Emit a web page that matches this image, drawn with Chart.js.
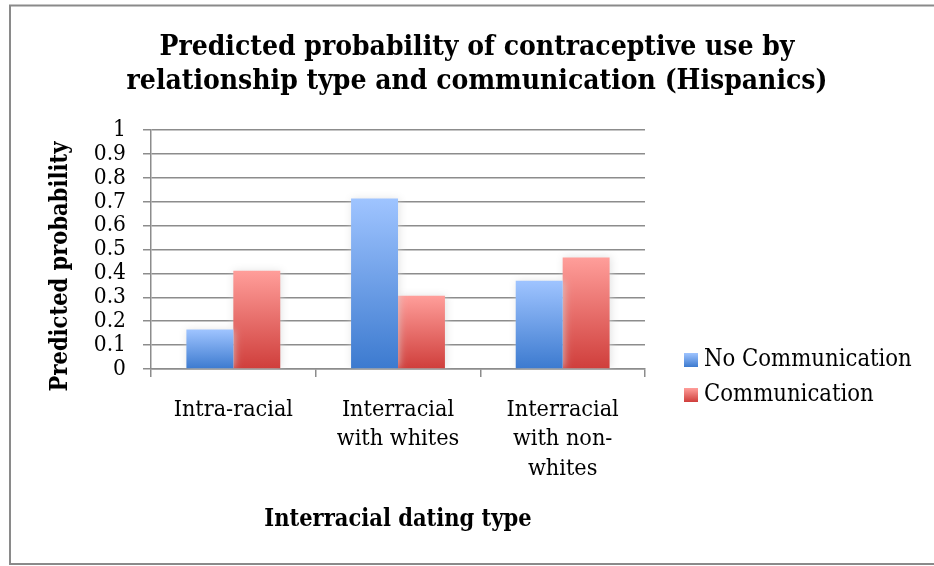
<!DOCTYPE html>
<html>
<head>
<meta charset="utf-8">
<script src="https://cdn.jsdelivr.net/npm/chart.js@4.4.1/dist/chart.umd.min.js"></script>
<style>
  html, body { margin: 0; padding: 0; background: #ffffff; }
  #wrap { width: 934px; height: 566px; }
</style>
</head>
<body>
<div id="wrap"><canvas id="chart" width="934" height="566"></canvas></div>
<script>
// Categories (multi-line tick labels) and series values
const categories = [
  ['Intra-racial'],
  ['Interracial', 'with whites'],
  ['Interracial', 'with non-', 'whites']
];
const seriesNames = ['No Communication', 'Communication'];
const noCommunication = [0.165, 0.713, 0.369];
const communication = [0.411, 0.306, 0.467];
const yTickLabels = ['0', '0.1', '0.2', '0.3', '0.4', '0.5', '0.6', '0.7', '0.8', '0.9', '1'];
const titleLines = [
  'Predicted probability of contraceptive use by',
  'relationship type and communication (Hispanics)'
];
const yAxisTitle = 'Predicted probability';
const xAxisTitle = 'Interracial dating type';

const FAMILY = "'DejaVu Serif Condensed', 'DejaVu Serif', serif";
const GRID = '#8c8c8c';
const blueStops = ['#9fc4ff', '#3c7acf'];
const redStops = ['#ff9e9a', '#cf3e3b'];

// vertical gradient spanning each bar from its top down to zero
function barFill(stops) {
  return (c) => {
    const chart = c.chart;
    if (!chart.chartArea || c.type !== 'data' || !chart.scales.y) return stops[1];
    const y = chart.scales.y;
    const top = y.getPixelForValue(c.raw);
    const base = y.getPixelForValue(0);
    const g = chart.ctx.createLinearGradient(0, top, 0, base);
    g.addColorStop(0, stops[0]);
    g.addColorStop(1, stops[1]);
    return g;
  };
}

// soft halo around the bars
const barHalo = {
  id: 'barHalo',
  beforeDatasetsDraw(chart) {
    const ctx = chart.ctx;
    ctx.save();
    ctx.shadowColor = 'rgba(215,215,215,0.75)';
    ctx.shadowBlur = 8;
    ctx.shadowOffsetX = 1;
    ctx.shadowOffsetY = 0;
  },
  afterDatasetsDraw(chart) {
    chart.ctx.restore();
  }
};

// frame, title, rotated y title and legend
const decorations = {
  id: 'decorations',
  beforeDraw(chart) {
    const ctx = chart.ctx;
    ctx.save();
    ctx.fillStyle = '#ffffff';
    ctx.fillRect(0, 0, chart.width, chart.height);
    ctx.strokeStyle = '#8a8a8a';
    ctx.lineWidth = 2;
    ctx.beginPath();
    ctx.moveTo(chart.width + 2, 5.5);
    ctx.lineTo(10, 5.5);
    ctx.lineTo(10, 564);
    ctx.lineTo(chart.width + 2, 564);
    ctx.stroke();
    ctx.restore();
  },
  afterDraw(chart) {
    const ctx = chart.ctx;
    const area = chart.chartArea;
    ctx.save();
    ctx.fillStyle = '#000000';
    // title
    ctx.font = 'bold 28px ' + FAMILY;
    ctx.textAlign = 'center';
    ctx.textBaseline = 'alphabetic';
    titleLines.forEach((t, i) => ctx.fillText(t, 477, 54.5 + i * 34));
    // y axis title
    ctx.save();
    ctx.translate(61, (area.top + area.bottom) / 2 + 17);
    ctx.rotate(-Math.PI / 2);
    ctx.font = 'bold 23.4px ' + FAMILY;
    ctx.textBaseline = 'middle';
    ctx.fillText(yAxisTitle, 0, 0);
    ctx.restore();
    // legend
    const stops = [blueStops, redStops];
    chart.data.datasets.forEach((ds, i) => {
      const sx = area.right + 39;
      const sy = area.bottom - 16 + i * 35;
      const g = ctx.createLinearGradient(0, sy, 0, sy + 14);
      g.addColorStop(0, stops[i][0]);
      g.addColorStop(1, stops[i][1]);
      ctx.fillStyle = g;
      ctx.fillRect(sx, sy, 14, 14);
      ctx.fillStyle = '#000000';
      ctx.font = '23.6px ' + FAMILY;
      ctx.textAlign = 'left';
      ctx.textBaseline = 'middle';
      ctx.fillText(ds.label, sx + 20, sy + 7);
    });
    ctx.restore();
  }
};

new Chart(document.getElementById('chart'), {
  type: 'bar',
  data: {
    labels: categories,
    datasets: [
      { label: seriesNames[0], data: noCommunication, backgroundColor: barFill(blueStops), borderWidth: 0 },
      { label: seriesNames[1], data: communication, backgroundColor: barFill(redStops), borderWidth: 0 }
    ]
  },
  options: {
    responsive: false,
    animation: false,
    devicePixelRatio: 1,
    layout: { padding: { top: 130, right: 289, bottom: 0, left: 0 } },
    datasets: { bar: { categoryPercentage: 0.57, barPercentage: 1.0 } },
    plugins: {
      legend: { display: false },
      title: { display: false },
      tooltip: { enabled: false }
    },
    scales: {
      x: {
        afterFit(scale) { scale.height = 197; },
        grid: { display: true, drawOnChartArea: false, drawTicks: true, tickLength: 8, color: GRID, lineWidth: 1.5, offset: true },
        border: { display: true, color: GRID, width: 1.5 },
        ticks: {
          color: '#000000',
          font: { family: FAMILY, size: 23.2, lineHeight: 1.27 },
          padding: 18,
          maxRotation: 0,
          autoSkip: false
        },
        title: {
          display: true,
          text: xAxisTitle,
          color: '#000000',
          font: { family: FAMILY, size: 23.4, weight: 'bold', lineHeight: 1.2 },
          padding: { top: 0, bottom: 32 }
        }
      },
      y: {
        min: 0,
        max: 1,
        afterFit(scale) { scale.width = 151; },
        grid: { color: GRID, lineWidth: 1.5, tickLength: 8 },
        border: { display: true, color: GRID, width: 1.5 },
        ticks: {
          stepSize: 0.1,
          autoSkip: false,
          color: '#000000',
          font: { family: FAMILY, size: 22.5 },
          padding: 17,
          callback: (v, i) => yTickLabels[i]
        }
      }
    }
  },
  plugins: [barHalo, decorations]
});
</script>
</body>
</html>
